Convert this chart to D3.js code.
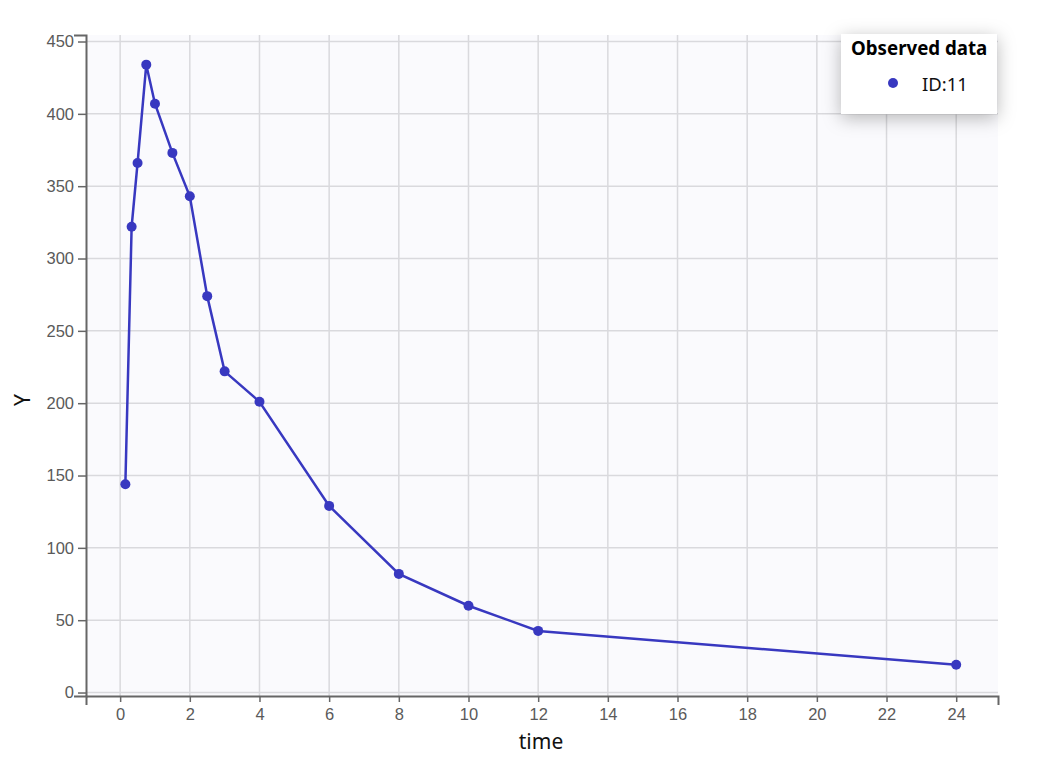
<!DOCTYPE html>
<html><head><meta charset="utf-8">
<script src="https://cdn.jsdelivr.net/npm/d3@7"></script>
<style>
body{margin:0;background:#fff;}
svg{display:block;}
</style></head>
<body>
<svg id="c" width="1040" height="764"></svg>
<script>
const times = [0.15, 0.33, 0.5, 0.75, 1, 1.5, 2, 2.5, 3, 4, 6, 8, 10, 12, 24];
const values = [144, 322, 366, 434, 407, 373, 343, 274, 222, 201, 129, 82, 60, 42.6, 19.2];
const xTicks = [0, 2, 4, 6, 8, 10, 12, 14, 16, 18, 20, 22, 24];
const yTicks = [0, 50, 100, 150, 200, 250, 300, 350, 400, 450];
const seriesName = "ID:11";
const legendTitle = "Observed data";

const svg = d3.select("#c");
const L = 86, R = 998, T = 35, B = 696;
const x = d3.scaleLinear().domain([-0.98, 25.2]).range([L, R]);
const y = d3.scaleLinear().domain([-2.4, 454.5]).range([B, T]);
const col = "#3838c0";

svg.append("rect").attr("x", L).attr("y", T).attr("width", R - L).attr("height", B - T).attr("fill", "#fafafd");

const g = svg.append("g");
g.selectAll(".vg").data(xTicks).enter().append("line")
  .attr("x1", d => x(d)).attr("x2", d => x(d)).attr("y1", T).attr("y2", B)
  .attr("stroke", "#d9d9dd").attr("stroke-width", 1.5);
g.selectAll(".hg").data(yTicks).enter().append("line")
  .attr("x1", L).attr("x2", R).attr("y1", d => y(d)).attr("y2", d => y(d))
  .attr("stroke", "#d9d9dd").attr("stroke-width", 1.5);

const xa = svg.append("g").attr("transform", `translate(0,${B})`)
  .call(d3.axisBottom(x).tickValues(xTicks).tickSize(6).tickSizeOuter(9).tickPadding(6));
const ya = svg.append("g").attr("transform", `translate(${L},0)`)
  .call(d3.axisLeft(y).tickValues(yTicks).tickSize(8).tickSizeOuter(12).tickPadding(4));
[xa, ya].forEach(a => {
  a.selectAll("path").attr("stroke", "#666").attr("stroke-width", 2);
  a.selectAll("line").attr("stroke", "#666").attr("stroke-width", 1.5);
  a.selectAll("text").attr("fill", "#5a5a5a").attr("font-family", "Liberation Sans, Arial, sans-serif").attr("font-size", 16.5);
});

const line = d3.line().x((d, i) => x(times[i])).y(d => y(d));
svg.append("path").datum(values).attr("d", line).attr("fill", "none")
  .attr("stroke", col).attr("stroke-width", 2.5);
svg.selectAll(".pt").data(values).enter().append("circle")
  .attr("cx", (d, i) => x(times[i])).attr("cy", d => y(d)).attr("r", 5).attr("fill", col);

svg.append("text").attr("x", 541).attr("y", 749).attr("text-anchor", "middle")
  .attr("font-family", "Noto Sans, Open Sans, sans-serif").attr("font-size", 21).attr("fill", "#111").text("time");
svg.append("text").attr("transform", "translate(30,400) rotate(-90)").attr("text-anchor", "middle")
  .attr("font-family", "Noto Sans, Open Sans, sans-serif").attr("font-size", 21).attr("fill", "#111").text("Y");

const defs = svg.append("defs");
const f = defs.append("filter").attr("id", "sh").attr("x", "-40%").attr("y", "-40%").attr("width", "180%").attr("height", "180%");
f.append("feDropShadow").attr("dx", 0).attr("dy", 4).attr("stdDeviation", 9).attr("flood-color", "#000").attr("flood-opacity", 0.28);
const lg = svg.append("g").attr("transform", "translate(841,34)");
lg.append("rect").attr("width", 156).attr("height", 80).attr("fill", "#fff").attr("filter", "url(#sh)");
lg.append("text").attr("x", 10).attr("y", 21).attr("font-family", "Noto Sans, Open Sans, sans-serif")
  .attr("font-weight", "bold").attr("font-size", 18.7).attr("fill", "#000").text(legendTitle);
lg.append("circle").attr("cx", 52).attr("cy", 49).attr("r", 5).attr("fill", col);
lg.append("text").attr("x", 81).attr("y", 57).attr("font-family", "Noto Sans, Open Sans, sans-serif")
  .attr("font-size", 18.5).attr("fill", "#111").text(seriesName);
</script>
</body></html>
